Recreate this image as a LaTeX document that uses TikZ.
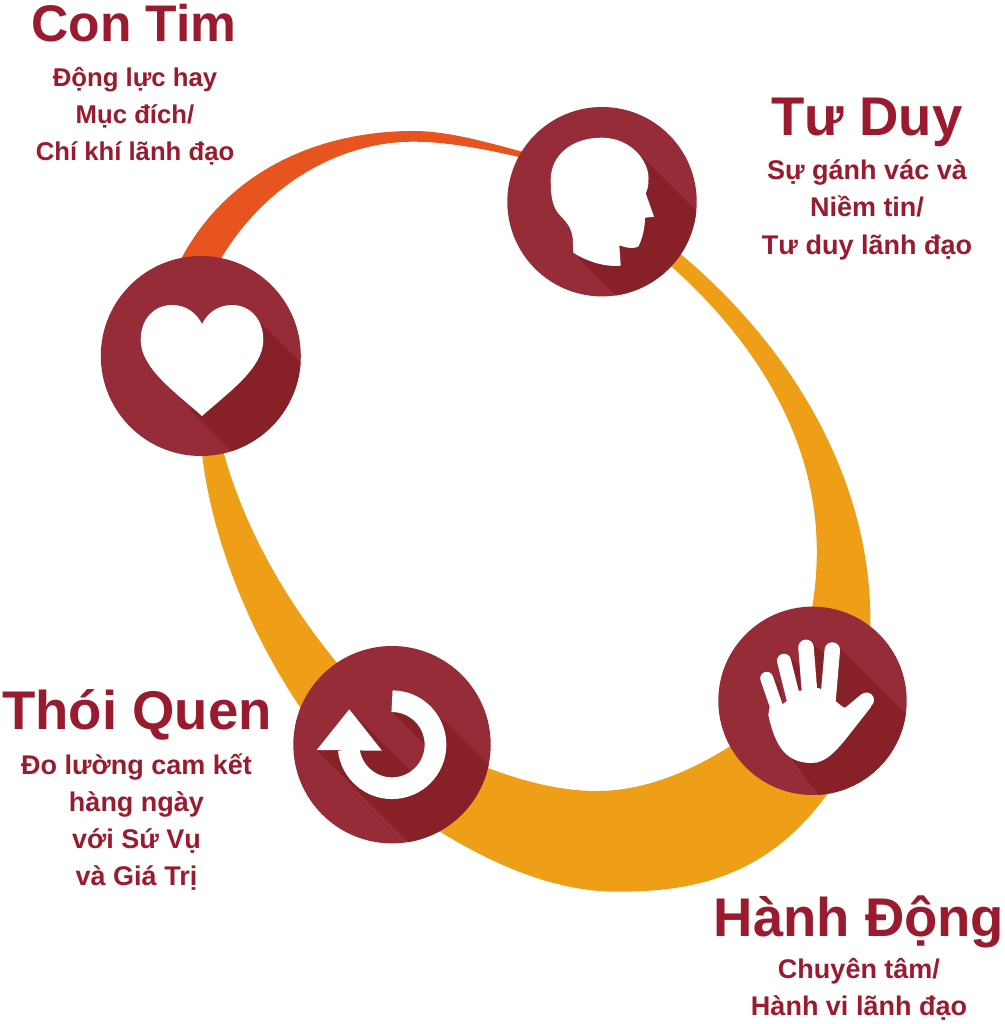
\documentclass[tikz,border=0pt]{standalone}
\usepackage{fontspec}
\setmainfont{Liberation Sans}
\definecolor{discRed}{RGB}{149,44,56}
\definecolor{discShade}{RGB}{136,32,40}
\definecolor{arcOrange}{RGB}{231,84,31}
\definecolor{arcAmber}{RGB}{239,159,23}
\definecolor{labelRed}{RGB}{154,26,46}
\tikzset{
  disc/.style={circle, fill=discRed, inner sep=0pt, minimum size=#1},
  shade/.style={fill=discShade},
  icon/.style={fill=white},
  finger/.style={draw=white, line cap=round, line width=#1},
  title/.style={font=\bfseries\fontsize{54.5}{54.5}\selectfont, text=labelRed, inner sep=0pt, anchor=base},
  blurb/.style={font=\bfseries\fontsize{27}{37}\selectfont, text=labelRed, inner sep=0pt, anchor=base, align=center}
}
\begin{document}
\begin{tikzpicture}[x=1pt, y=-1pt]
    \useasboundingbox (0,0) rectangle (1004,1024);
    % the arcs, their ends hidden under the discs
    \fill[arcOrange] (178,265) .. controls (225,170) and (320,131) .. (413.3,131) .. controls (450,131) and (490,143) .. (545,158)
      -- (545,163) .. controls (490,150) and (450,141.7) .. (413.3,141.7) .. controls (335,141.7) and (255,190) .. (212,275) -- cycle;
    \fill[arcAmber] (650,230) .. controls (775,322) and (878,470) .. (870,640)
      -- (805,640) .. controls (850,470) and (760,335) .. (640,240) -- cycle;
    \fill[arcAmber] (200,430) .. controls (205,530) and (255,660) .. (340,760)
      -- (380,710) .. controls (300,630) and (240,530) .. (218,430) -- cycle;
    \fill[arcAmber] (400,805) .. controls (470,855) and (545,891.7) .. (616.7,891.7) .. controls (690,891.7) and (775,880) .. (840,775)
      -- (790,700) .. controls (735,750) and (665,791) .. (596.7,791) .. controls (550,791) and (500,775) .. (450,752) -- cycle;

    \node[disc=189.4pt] (head) at (602,201.7) {};
    \node[disc=200pt] (heart) at (200.8,356) {};
    \node[disc=197.4pt] (loop) at (392,744.7) {};
    \node[disc=188.4pt] (hand) at (812.5,700.8) {};

    % head
    \begin{scope}
      \clip (head.center) circle[radius=94.7pt];
      \fill[shade] (641.7,156.7) -- (720,235) -- (640,320) -- (578.3,258.3) -- cycle;
    \end{scope}
    \fill[icon] (573.3,252.7) -- (572.7,238) .. controls (571,226) and (566,222) .. (558,213) .. controls (552,205) and (550.7,195) .. (550.7,180)
      .. controls (550.7,155) and (572,137.7) .. (601.7,137.7) .. controls (630,137.7) and (648.5,160) .. (648.5,178) .. controls (648.5,186) and (648,188) .. (645.7,193.3)
      -- (654,216.7) -- (645,217.7) .. controls (645,228) and (642,240) .. (638.3,246.5) .. controls (634,249) and (627,248) .. (619.3,245.3)
      -- (620.7,265.7) .. controls (605,267) and (588,262) .. cycle;

    % heart
    \begin{scope}
      \clip (heart.center) circle[radius=100pt];
      \fill[shade] (255,316.7) -- (330,391.7) -- (250,470) -- (190,410) -- cycle;
    \end{scope}
    \fill[icon] (202,416) .. controls (175,392) and (140.7,368) .. (140.7,340) .. controls (140.7,318) and (155,305) .. (172,305) .. controls (187,305) and (197,314) .. (202,324)
      .. controls (207,314) and (217,305) .. (232,305) .. controls (249,305) and (263.3,318) .. (263.3,340) .. controls (263.3,368) and (229,392) .. (202,416) -- cycle;

    % loop arrow
    \begin{scope}
      \clip (loop.center) circle[radius=98.7pt];
      \fill[shade] (316.7,750) -- (349.3,709.3) -- (420,780) -- (430,750) -- (392.7,712.7) -- (392,690) -- (430.3,706.3) -- (546.7,822.7) -- (446.7,880.7) -- cycle;
    \end{scope}
    \draw[white, line width=21.7pt] (392,701.2) arc[start angle=90, end angle=-174, radius=43.5pt];
    \fill[icon] (316.7,750) -- (349.3,709.3) -- (382,750.7) -- cycle;

    % hand
    \begin{scope}
      \clip (hand.center) circle[radius=94.2pt];
      \fill[shade] (840,648.3) -- (930,738) -- (830,810) -- (790,757) -- cycle;
      \fill[shade] (811.7,641.7) -- (826,656) -- (820,692) -- (815,692) -- cycle;
      \fill[shade] (787,654) -- (799.5,667) -- (801,692) -- (797,692) -- cycle;
      \fill[shade] (771.7,676) -- (779.5,684) -- (783,706) -- (780,706) -- cycle;
    \end{scope}
    \fill[icon] (770,705) -- (768.3,715) .. controls (775,745) and (785,763) .. (812,763) .. controls (825,763) and (835,752) .. (845,740)
      -- (871,707) -- (861.7,694) -- (845.7,707.3) -- (843.3,707.3) -- (819,688) -- (799.5,690.7) -- (781.7,705) -- cycle;
    \draw[finger=13pt] (766.7,678.3) -- (785,731);
    \draw[finger=14pt] (784,660.7) -- (800,725);
    \draw[finger=15.5pt] (806,647.3) -- (811,710);
    \draw[finger=15.5pt] (832.3,650) -- (827,712);
    \draw[finger=15pt] (866.5,700) -- (838,732);

    \node[title, font=\bfseries\fontsize{51.5}{51.5}\selectfont] (contim) at (134,42) {Con Tim};
    \node[blurb, font=\bfseries\fontsize{25.7}{37}\selectfont] (contimtext) at (135,161) {Động lực hay\\Mục đích/\\Chí khí lãnh đạo};
    \node[title] (tuduy) at (867,136) {Tư Duy};
    \node[blurb] (tuduytext) at (867,254) {Sự gánh vác và\\Niềm tin/\\Tư duy lãnh đạo};
    \node[title] (thoiquen) at (137,729) {Thói Quen};
    \node[blurb] (thoiquentext) at (136.5,885) {Đo lường cam kết\\hàng ngày\\với Sứ Vụ\\và Giá Trị};
    \node[title] (hanhdong) at (859,936) {Hành Động};
    \node[blurb] (hanhdongtext) at (859,1015) {Chuyên tâm/\\Hành vi lãnh đạo};
\end{tikzpicture}
\end{document}
